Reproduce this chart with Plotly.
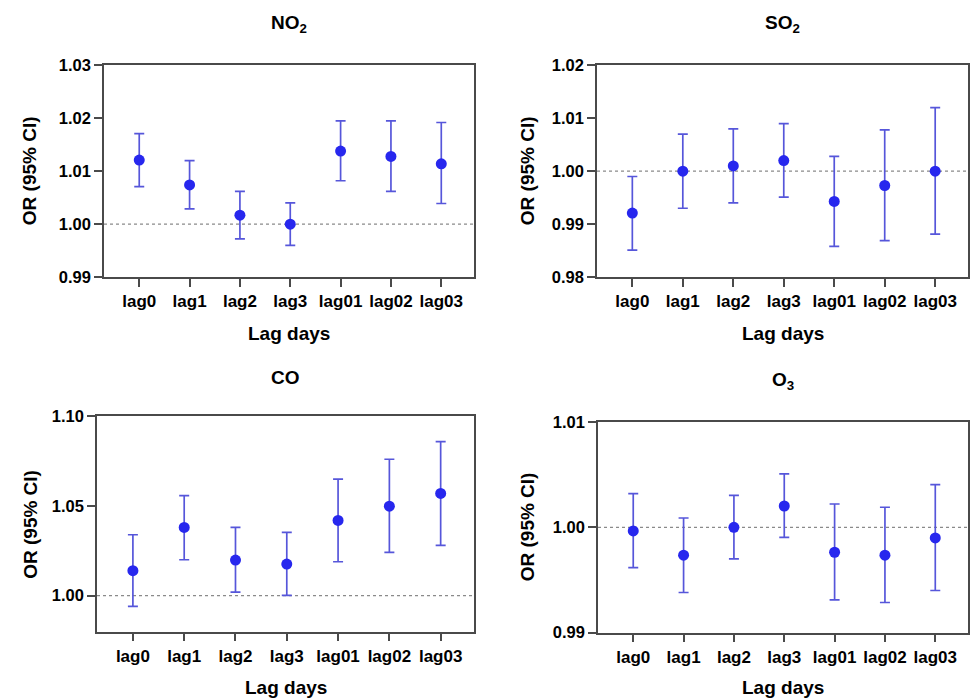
import plotly.graph_objects as go

lags = ["lag0", "lag1", "lag2", "lag3", "lag01", "lag02", "lag03"]

no2_or = [1.0121, 1.0074, 1.0017, 1.0000, 1.0138, 1.0128, 1.0114]
no2_lo = [1.0071, 1.0029, 0.9972, 0.9960, 1.0082, 1.0062, 1.0039]
no2_hi = [1.0171, 1.0120, 1.0062, 1.0040, 1.0195, 1.0195, 1.0192]

so2_or = [0.9921, 1.0000, 1.0010, 1.0020, 0.9943, 0.9973, 1.0000]
so2_lo = [0.9851, 0.9930, 0.9940, 0.9951, 0.9858, 0.9869, 0.9881]
so2_hi = [0.9990, 1.0070, 1.0080, 1.0090, 1.0028, 1.0078, 1.0120]

co_or = [1.0139, 1.0380, 1.0198, 1.0176, 1.0419, 1.0498, 1.0569]
co_lo = [0.9941, 1.0200, 1.0020, 1.0002, 1.0189, 1.0241, 1.0280]
co_hi = [1.0339, 1.0557, 1.0380, 1.0352, 1.0648, 1.0759, 1.0857]

o3_or = [0.99965, 0.99735, 1.0000, 1.00202, 0.99763, 0.99735, 0.99899]
o3_lo = [0.99618, 0.99381, 0.9970, 0.99905, 0.99311, 0.99286, 0.9940]
o3_hi = [1.00319, 1.00088, 1.00303, 1.00506, 1.00221, 1.0019, 1.00404]

titles = ["<b>NO<sub>2</sub></b>", "<b>SO<sub>2</sub></b>", "<b>CO</b>", "<b>O<sub>3</sub></b>"]
y_ticks = [[0.99, 1.00, 1.01, 1.02, 1.03],
           [0.98, 0.99, 1.00, 1.01, 1.02],
           [1.00, 1.05, 1.10],
           [0.99, 1.00, 1.01]]
y_ranges = [[0.99, 1.03], [0.98, 1.02], [0.98, 1.10], [0.99, 1.01]]
series = [(no2_or, no2_lo, no2_hi), (so2_or, so2_lo, so2_hi),
          (co_or, co_lo, co_hi), (o3_or, o3_lo, o3_hi)]

W, H = 970, 699


def fy(y):
    # compensate the vertical offset/scale observed in the rendered page
    return (y - 8.6) / 0.9754


# pixel boxes (target picture coords): left, right, top, bottom
boxes = [(104, 474, 65, 277), (597, 968, 65, 277),
         (97, 474, 416, 632), (598, 968, 422, 633)]
title_y = [24, 24, 378, 381]
xlab_y = [333, 333, 688, 688]
ylab_x = [29, 527, 31, 527]

FONT = "Liberation Sans, Arial, Helvetica, sans-serif"
AX = "#4a4a4a"

fig = go.Figure()
layout = dict(width=W, height=H, margin=dict(l=0, r=0, t=0, b=0),
              paper_bgcolor="white", plot_bgcolor="white", showlegend=False,
              font=dict(family=FONT, color="black"))
annotations = []
shapes = []

for i, ((orv, lo, hi), box) in enumerate(zip(series, boxes)):
    n = "" if i == 0 else str(i + 1)
    l, r, t, b = box
    xd = [l / W, r / W]
    yd = [1 - fy(b) / H, 1 - fy(t) / H]
    fig.add_trace(go.Scatter(
        x=lags, y=orv, mode="markers",
        xaxis="x" + n, yaxis="y" + n,
        marker=dict(size=11, color="#2727EE"),
        error_y=dict(type="data", symmetric=False,
                     array=[h - o for h, o in zip(hi, orv)],
                     arrayminus=[o - v for o, v in zip(orv, lo)],
                     color="#5656DA", thickness=1.7, width=5),
    ))
    layout["xaxis" + n] = dict(
        domain=xd, anchor="y" + n, type="category", range=[-0.7, 6.65],
        showline=True, linecolor=AX, linewidth=1.6, mirror=True,
        ticks="outside", ticklen=8, tickwidth=1.6, tickcolor=AX,
        showgrid=False, zeroline=False,
        tickfont=dict(size=17, family=FONT, color="black", weight="bold"))
    layout["yaxis" + n] = dict(
        domain=yd, anchor="x" + n, range=y_ranges[i],
        tickvals=y_ticks[i], tickformat=".2f",
        showline=True, linecolor=AX, linewidth=1.6, mirror=True,
        ticks="outside", ticklen=8, tickwidth=1.6, tickcolor=AX,
        showgrid=False, zeroline=False,
        tickfont=dict(size=16.5, family=FONT, color="black", weight="bold"))
    shapes.append(dict(type="line", xref="x%s domain" % n, yref="y" + n,
                       x0=0, x1=1, y0=1.0, y1=1.0, layer="below",
                       line=dict(color="#8a8a8a", width=1.2, dash="dot")))
    cx = (l + r) / 2 / W
    annotations.append(dict(text=titles[i], x=cx, y=1 - fy(title_y[i]) / H,
                            xref="paper", yref="paper", showarrow=False,
                            xanchor="center", yanchor="middle",
                            font=dict(size=19, family=FONT, color="black")))
    annotations.append(dict(text="<b>Lag days</b>", x=cx,
                            y=1 - fy(xlab_y[i]) / H,
                            xref="paper", yref="paper", showarrow=False,
                            xanchor="center", yanchor="middle",
                            font=dict(size=19, family=FONT, color="black")))
    annotations.append(dict(text="<b>OR (95% CI)</b>", x=ylab_x[i] / W,
                            y=1 - fy((t + b) / 2) / H, textangle=-90,
                            xref="paper", yref="paper", showarrow=False,
                            xanchor="center", yanchor="middle",
                            font=dict(size=19, family=FONT, color="black")))

layout["annotations"] = annotations
layout["shapes"] = shapes
fig.update_layout(**layout)
fig.write_html("out.html", config={"displayModeBar": False},
               post_script="document.body.style.margin='0';"
                           "document.body.style.overflow='hidden';")
